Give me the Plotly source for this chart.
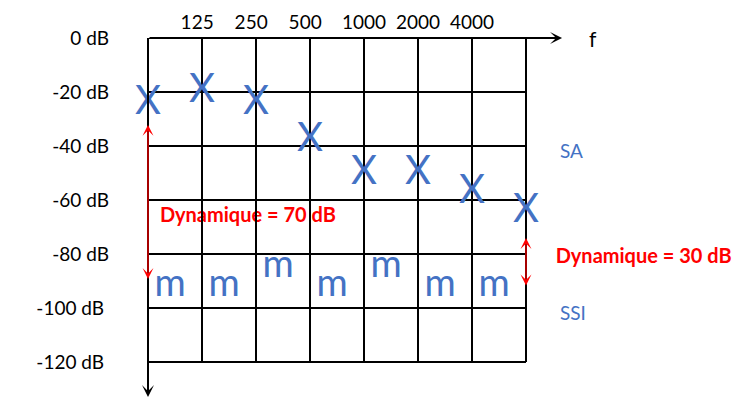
import plotly.graph_objects as go

NB = "\u00a0"

# ---- data ----
freq_labels = ["125" + NB * 2, "250" + NB * 2, "500" + NB * 2, "1000", "2000", "4000"]
freq_pos = [1, 2, 3, 4, 5, 6]            # grid-line index of each frequency label
grid_x = [0, 1, 2, 3, 4, 5, 6, 7]        # vertical grid lines (column boundaries)
db_levels = [0, -20, -40, -60, -80, -100, -120]
db_labels = ["0 dB", "-20 dB", "-40 dB", "-60 dB", "-80 dB", "-100 dB" + NB, "-120 dB" + NB]

sa_x = [0, 1, 2, 3, 4, 5, 6, 7]
sa_db = [-24.5, -20, -24.5, -38, -50.5, -50.5, -57.5, -64.5]

ssi_x = [0.41, 1.41, 2.41, 3.41, 4.41, 5.41, 6.41]
ssi_db = [-92, -92, -85, -92, -85, -92, -92]

dyn_labels = ["Dynamique = 70 dB", "Dynamique = 30 dB"]
dyn_x = [0.22, 7.55]
dyn_y = [-66.2, -81.5]
dyn_arrow_x = [0, 7]
dyn_arrow_top = [-32.2, -74.1]
dyn_arrow_bottom = [-89.8, -92.2]

BLUE = "#4472C4"
RED = "#FF0000"
FONT = "Lato"

# ---- figure ----
fig = go.Figure()

# red "Dynamique" labels (drawn under the grid lines)
fig.add_trace(go.Scatter(
    x=dyn_x, y=dyn_y, text=dyn_labels, mode="text",
    textposition="middle right",
    textfont=dict(family=FONT, size=20, color=RED, weight="bold"),
    cliponaxis=False, hoverinfo="skip", showlegend=False))

# grid
gx, gy = [], []
for xv in grid_x:
    gx += [xv, xv, None]
    gy += [db_levels[0], db_levels[-1], None]
for yv in db_levels:
    gx += [grid_x[0], grid_x[-1], None]
    gy += [yv, yv, None]
fig.add_trace(go.Scatter(x=gx, y=gy, mode="lines",
                         line=dict(color="black", width=2),
                         hoverinfo="skip", showlegend=False, cliponaxis=False))

# SA markers
fig.add_trace(go.Scatter(
    x=sa_x, y=sa_db, text=["X"] * len(sa_x), mode="text",
    textposition="middle center",
    textfont=dict(family=FONT, size=40, color=BLUE),
    cliponaxis=False, hoverinfo="skip", showlegend=False))

# SSI markers
fig.add_trace(go.Scatter(
    x=ssi_x, y=ssi_db, text=["m"] * len(ssi_x), mode="text",
    textposition="middle center",
    textfont=dict(family=FONT, size=38, color=BLUE),
    cliponaxis=False, hoverinfo="skip", showlegend=False))

annotations = []
# axis arrows
annotations.append(dict(x=7.667, y=0, ax=0, ay=0, xref="x", yref="y", axref="x", ayref="y",
                        text="", showarrow=True, arrowhead=3, arrowsize=1.0,
                        arrowwidth=2, arrowcolor="black"))
annotations.append(dict(x=0, y=-133, ax=0, ay=0, xref="x", yref="y", axref="x", ayref="y",
                        text="", showarrow=True, arrowhead=3, arrowsize=1.0,
                        arrowwidth=2, arrowcolor="black"))
# red dynamic-range arrows
for xa, yt, yb in zip(dyn_arrow_x, dyn_arrow_top, dyn_arrow_bottom):
    annotations.append(dict(x=xa, y=yt, ax=xa, ay=yb, xref="x", yref="y", axref="x", ayref="y",
                            text="", showarrow=True, arrowhead=3, startarrowhead=3,
                            arrowside="end+start", arrowsize=1.4, startarrowsize=1.4,
                            arrowwidth=1.3, arrowcolor=RED))
# labels
annotations.append(dict(x=8.13, y=-0.2, xref="x", yref="y", text="f", showarrow=False,
                        xanchor="left", yanchor="middle",
                        font=dict(family=FONT, size=21, color="black")))
annotations.append(dict(x=7.59, y=-41.8, xref="x", yref="y", text="SA", showarrow=False,
                        xanchor="left", yanchor="middle",
                        font=dict(family=FONT, size=19, color=BLUE)))
annotations.append(dict(x=7.59, y=-101.5, xref="x", yref="y", text="SSI", showarrow=False,
                        xanchor="left", yanchor="middle",
                        font=dict(family=FONT, size=19, color=BLUE)))

fig.update_layout(
    width=739, height=407,
    margin=dict(l=130, r=0, t=38, b=0, pad=0),
    paper_bgcolor="white", plot_bgcolor="white",
    hovermode=False, showlegend=False,
    annotations=annotations,
    xaxis=dict(range=[-18 / 54, 591 / 54], side="top",
               tickvals=freq_pos, ticktext=freq_labels, ticks="",
               showgrid=False, zeroline=False, showline=False,
               ticklabelstandoff=4,
               tickfont=dict(family=FONT, size=19, color="black")),
    yaxis=dict(range=[-369 / 2.7, 0],
               tickvals=db_levels, ticktext=db_labels, ticks="",
               showgrid=False, zeroline=False, showline=False,
               ticklabelstandoff=20,
               tickfont=dict(family=FONT, size=19, color="black")),
)

fig.write_html("out.html", config={"displayModeBar": False},
               post_script="document.body.style.margin='0';document.body.style.overflow='hidden';")
